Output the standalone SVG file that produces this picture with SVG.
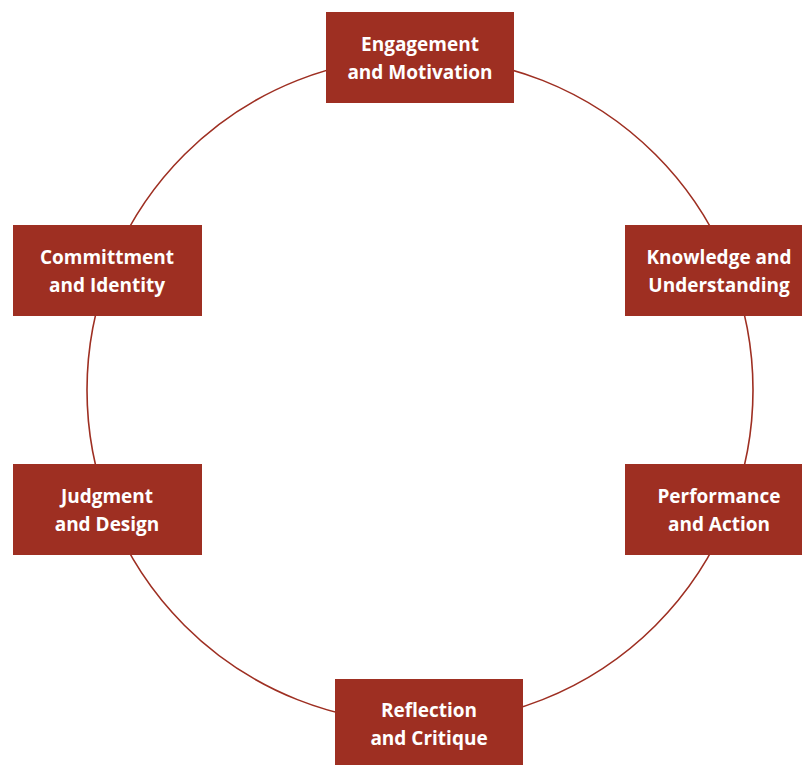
<svg xmlns="http://www.w3.org/2000/svg" width="802" height="765" viewBox="0 0 802 765">
<style>
.box{fill:#9E2F22}
.lbl{fill:#ffffff;font-family:"Open Sans","Liberation Sans",sans-serif;font-weight:bold;font-size:19px;text-anchor:middle}
.ring{fill:none;stroke:#9E2F22;stroke-width:1.6}
</style>
<rect width="802" height="765" fill="#ffffff"/>
<g id="connectors">
<circle class="ring" cx="420" cy="390" r="333"/>
</g>
<g id="engagement">
<rect class="box" x="326" y="12" width="188" height="91"/>
<text class="lbl" x="420" y="51">Engagement</text>
<text class="lbl" x="420" y="79">and Motivation</text>
</g>
<g id="knowledge">
<rect class="box" x="625" y="225" width="188" height="91"/>
<text class="lbl" x="719" y="264">Knowledge and</text>
<text class="lbl" x="719" y="292">Understanding</text>
</g>
<g id="performance">
<rect class="box" x="625" y="464" width="188" height="91"/>
<text class="lbl" x="719" y="503">Performance</text>
<text class="lbl" x="719" y="531">and Action</text>
</g>
<g id="reflection">
<rect class="box" x="335" y="679" width="188" height="91"/>
<text class="lbl" x="429" y="717">Reflection</text>
<text class="lbl" x="429" y="745">and Critique</text>
</g>
<g id="judgment">
<rect class="box" x="13" y="464" width="189" height="91"/>
<text class="lbl" x="107" y="503">Judgment</text>
<text class="lbl" x="107" y="531">and Design</text>
</g>
<g id="commitment">
<rect class="box" x="13" y="225" width="189" height="91"/>
<text class="lbl" x="107" y="264">Committment</text>
<text class="lbl" x="107" y="292">and Identity</text>
</g>
</svg>
